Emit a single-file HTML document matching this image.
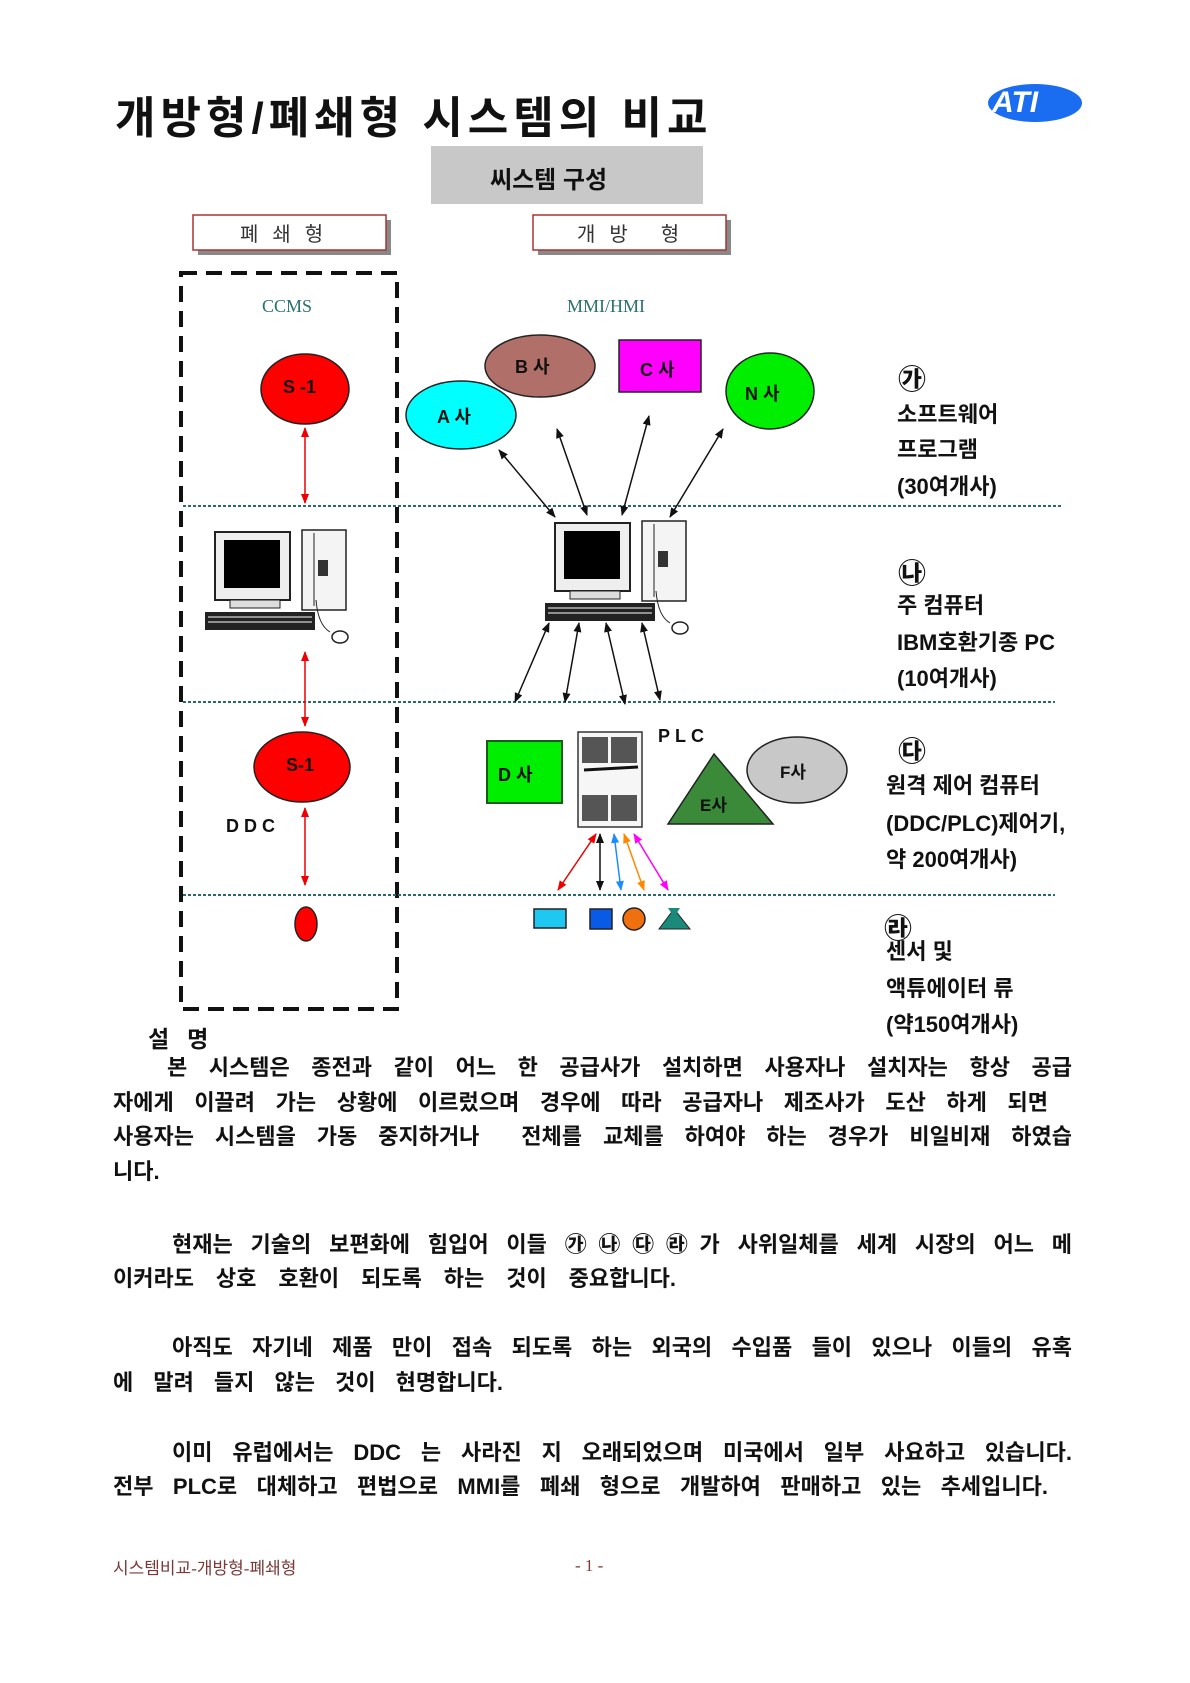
<!DOCTYPE html>
<html><head><meta charset="utf-8"><style>
body{margin:0;background:#fff;}
#p{position:relative;width:1190px;height:1683px;overflow:hidden;background:#fff;font-family:"Liberation Serif","Noto Sans CJK KR",serif;}
.t{position:absolute;white-space:nowrap;color:#111;}
.k{font-family:"Liberation Sans","Noto Sans CJK KR",sans-serif;font-weight:bold;}
.j{position:absolute;left:113px;width:959px;text-align:justify;text-align-last:justify;font-family:"Liberation Sans","Noto Sans CJK KR",sans-serif;font-weight:bold;font-size:22px;color:#111;white-space:nowrap;line-height:28px;}
.r{position:absolute;left:897px;font-family:"Liberation Sans","Noto Sans CJK KR",sans-serif;font-weight:bold;font-size:22px;color:#111;white-space:nowrap;line-height:28px;}
</style></head><body><div id="p">
<svg width="1190" height="1683" style="position:absolute;left:0;top:0">
<defs>
<marker id="ak" markerWidth="10" markerHeight="10" refX="9" refY="5" orient="auto-start-reverse" markerUnits="userSpaceOnUse"><path d="M0,1 L10,5 L0,9 z" fill="#111"/></marker>
<marker id="ar" markerWidth="10" markerHeight="10" refX="9" refY="5" orient="auto-start-reverse" markerUnits="userSpaceOnUse"><path d="M0,1 L10,5 L0,9 z" fill="#e00"/></marker>
<marker id="ab" markerWidth="10" markerHeight="10" refX="9" refY="5" orient="auto-start-reverse" markerUnits="userSpaceOnUse"><path d="M0,1 L10,5 L0,9 z" fill="#1a8cff"/></marker>
<marker id="ao" markerWidth="10" markerHeight="10" refX="9" refY="5" orient="auto-start-reverse" markerUnits="userSpaceOnUse"><path d="M0,1 L10,5 L0,9 z" fill="#f80"/></marker>
<marker id="am" markerWidth="10" markerHeight="10" refX="9" refY="5" orient="auto-start-reverse" markerUnits="userSpaceOnUse"><path d="M0,1 L10,5 L0,9 z" fill="#f0f"/></marker>
</defs>
<ellipse cx="1035" cy="103" rx="47" ry="19" fill="#1a6cf0"/>
<rect x="431" y="146" width="272" height="58" fill="#c8c8c8"/>
<rect x="198" y="220" width="193" height="35" fill="#888"/>
<rect x="193" y="215" width="193" height="35" fill="#fff" stroke="#a33" stroke-width="1.5"/>
<rect x="538" y="220" width="193" height="35" fill="#888"/>
<rect x="533" y="215" width="193" height="35" fill="#fff" stroke="#a33" stroke-width="1.5"/>
<rect x="181" y="273" width="216" height="736" fill="none" stroke="#111" stroke-width="4" stroke-dasharray="16,9"/>
<g stroke="#2a6a6a" stroke-width="2" stroke-dasharray="3,2">
<line x1="183" y1="506" x2="1061" y2="506"/><line x1="183" y1="702" x2="1055" y2="702"/><line x1="183" y1="895" x2="1055" y2="895"/></g>
<ellipse cx="305" cy="389" rx="44" ry="35" fill="#f00" stroke="#222" stroke-width="1.5"/>
<ellipse cx="302" cy="767" rx="48" ry="35" fill="#f00" stroke="#222" stroke-width="1.5"/>
<ellipse cx="306" cy="924" rx="11" ry="17" fill="#f00" stroke="#222" stroke-width="1.5"/>
<g stroke="#e00" stroke-width="1.5" marker-start="url(#ar)" marker-end="url(#ar)">
<line x1="305" y1="428" x2="305" y2="503"/><line x1="305" y1="652" x2="305" y2="726"/><line x1="305" y1="808" x2="305" y2="885"/></g>
<ellipse cx="540" cy="366" rx="55" ry="31" fill="#b06f68" stroke="#222" stroke-width="1.5"/>
<ellipse cx="461" cy="415" rx="55" ry="34" fill="#0ff" stroke="#222" stroke-width="1.5"/>
<rect x="619" y="340" width="82" height="52" fill="#f0f" stroke="#222" stroke-width="1.5"/>
<ellipse cx="770" cy="391" rx="44" ry="38" fill="#0e0" stroke="#222" stroke-width="1.5"/>
<g stroke="#111" stroke-width="1.5" marker-start="url(#ak)" marker-end="url(#ak)">
<line x1="555" y1="517" x2="499" y2="450"/><line x1="587" y1="515" x2="557" y2="429"/><line x1="622" y1="515" x2="649" y2="416"/><line x1="670" y1="517" x2="723" y2="429"/>
<line x1="549" y1="623" x2="515" y2="702"/><line x1="579" y1="623" x2="565" y2="702"/><line x1="606" y1="623" x2="625" y2="704"/><line x1="642" y1="623" x2="660" y2="700"/>
</g>
<g id="pc">
<rect x="215" y="532" width="75" height="68" fill="#eee" stroke="#222" stroke-width="2"/>
<rect x="224" y="540" width="56" height="48" fill="#000"/>
<rect x="230" y="600" width="50" height="8" fill="#ddd" stroke="#222"/>
<rect x="302" y="530" width="44" height="80" fill="#f4f4f4" stroke="#222" stroke-width="1.5"/>
<line x1="314" y1="533" x2="314" y2="606" stroke="#222"/><rect x="318" y="560" width="10" height="16" fill="#333"/>
<rect x="205" y="612" width="110" height="18" fill="#222"/>
<g stroke="#fff" stroke-width="1"><line x1="208" y1="617" x2="312" y2="617"/><line x1="208" y1="622" x2="312" y2="622"/></g>
<path d="M316,600 Q318,625 330,632" fill="none" stroke="#222"/>
<ellipse cx="340" cy="637" rx="8" ry="6" fill="#fff" stroke="#222" stroke-width="1.5"/>
</g>
<use href="#pc" x="340" y="-9"/>
<rect x="487" y="741" width="75" height="62" fill="#0e0" stroke="#1a5a1a" stroke-width="2"/>
<rect x="578" y="732" width="64" height="95" fill="#f6f6f6" stroke="#333" stroke-width="1.5"/>
<rect x="582" y="737" width="26" height="26" fill="#555"/><rect x="611" y="737" width="26" height="26" fill="#555"/>
<rect x="582" y="795" width="26" height="26" fill="#555"/><rect x="611" y="795" width="26" height="26" fill="#555"/>
<line x1="584" y1="770" x2="638" y2="767" stroke="#111" stroke-width="3"/>
<polygon points="714,754 668,824 773,824" fill="#3a8a3a" stroke="#222" stroke-width="1.5"/>
<ellipse cx="797" cy="770" rx="50" ry="33" fill="#c8c8c8" stroke="#222" stroke-width="1.5"/>
<line x1="596" y1="834" x2="558" y2="890" stroke="#e00" stroke-width="1.5" marker-start="url(#ar)" marker-end="url(#ar)"/>
<line x1="600" y1="834" x2="600" y2="890" stroke="#111" stroke-width="1.5" marker-start="url(#ak)" marker-end="url(#ak)"/>
<line x1="614" y1="834" x2="621" y2="890" stroke="#1a8cff" stroke-width="1.5" marker-start="url(#ab)" marker-end="url(#ab)"/>
<line x1="624" y1="834" x2="644" y2="890" stroke="#f80" stroke-width="1.5" marker-start="url(#ao)" marker-end="url(#ao)"/>
<line x1="634" y1="834" x2="668" y2="890" stroke="#f0f" stroke-width="1.5" marker-start="url(#am)" marker-end="url(#am)"/>
<rect x="534" y="909" width="32" height="19" fill="#1ec8f0" stroke="#222" stroke-width="1.5"/>
<rect x="590" y="909" width="22" height="20" fill="#0a5ae8" stroke="#222" stroke-width="1.5"/>
<circle cx="634" cy="919" r="11" fill="#f07010" stroke="#222" stroke-width="1.5"/>
<polygon points="674,909 659,929 690,929" fill="#1a8a7a" stroke="#222" stroke-width="1"/>
<polygon points="668,908 680,908 674,917" fill="#1a8a7a"/>
</svg>
<div class="t k" style="left:115px;top:82px;font-size:44px;letter-spacing:5px">개방형/폐쇄형 시스템의 비교</div>
<div class="t" style="left:992px;top:86px;font-size:30px;font-weight:bold;font-style:italic;color:#fff;font-family:'Liberation Sans',sans-serif">ATI</div>
<div class="t k" style="left:490px;top:160px;font-size:24px">씨스템 구성</div>
<div class="t" style="left:240px;top:218px;font-size:20px;color:#333;letter-spacing:14px">폐쇄형</div>
<div class="t" style="left:577px;top:218px;font-size:20px;color:#333;letter-spacing:14px">개방&nbsp;형</div>
<div class="t" style="left:262px;top:296px;font-size:18px;color:#2a7070">CCMS</div>
<div class="t" style="left:567px;top:296px;font-size:18px;color:#2a7070">MMI/HMI</div>
<div class="t k" style="left:283px;top:377px;font-size:18px">S -1</div>
<div class="t k" style="left:286px;top:755px;font-size:18px">S-1</div>
<div class="t k" style="left:226px;top:816px;font-size:18px;letter-spacing:5px">DDC</div>
<div class="t k" style="left:437px;top:403px;font-size:18px">A 사</div>
<div class="t k" style="left:515px;top:353px;font-size:18px">B 사</div>
<div class="t k" style="left:640px;top:356px;font-size:18px">C 사</div>
<div class="t k" style="left:745px;top:380px;font-size:18px">N 사</div>
<div class="t k" style="left:498px;top:761px;font-size:18px">D 사</div>
<div class="t k" style="left:658px;top:726px;font-size:18px;letter-spacing:5px">PLC</div>
<div class="t k" style="left:700px;top:791px;font-size:17px">E사</div>
<div class="t k" style="left:780px;top:758px;font-size:17px">F사</div>
<div class="t k" style="left:898px;top:358px;font-size:28px">㉮</div>
<div class="r" style="top:401px">소프트웨어</div>
<div class="r" style="top:436px">프로그램</div>
<div class="r" style="top:473px">(30여개사)</div>
<div class="t k" style="left:898px;top:552px;font-size:28px">㉯</div>
<div class="r" style="top:592px">주 컴퓨터</div>
<div class="r" style="top:629px">IBM호환기종 PC</div>
<div class="r" style="top:665px">(10여개사)</div>
<div class="t k" style="left:898px;top:730px;font-size:28px">㉰</div>
<div class="r" style="left:886px;top:772px">원격 제어 컴퓨터</div>
<div class="r" style="left:886px;top:810px">(DDC/PLC)제어기,</div>
<div class="r" style="left:886px;top:846px">약 200여개사)</div>
<div class="t k" style="left:884px;top:907px;font-size:28px">㉱</div>
<div class="r" style="left:886px;top:938px">센서 및</div>
<div class="r" style="left:886px;top:975px">액튜에이터 류</div>
<div class="r" style="left:886px;top:1011px">(약150여개사)</div>
<div class="t k" style="left:148px;top:1020px;font-size:23px;letter-spacing:18px">설명</div>
<div class="j" style="top:1054px;left:167px;width:905px">본 시스템은 종전과 같이 어느 한 공급사가 설치하면 사용자나 설치자는 항상 공급</div>
<div class="j" style="top:1089px;width:935px">자에게 이끌려 가는 상황에 이르렀으며 경우에 따라 공급자나 제조사가 도산 하게 되면</div>
<div class="j" style="top:1123px">사용자는 시스템을 가동 중지하거나 &nbsp;전체를 교체를 하여야 하는 경우가 비일비재 하였습</div>
<div class="j" style="top:1158px;text-align-last:left">니다.</div>
<div class="j" style="top:1231px;left:172px;width:900px">현재는 기술의 보편화에 힘입어 이들 ㉮㉯㉰㉱가 사위일체를 세계 시장의 어느 메</div>
<div class="j" style="top:1265px;width:563px">이커라도 상호 호환이 되도록 하는 것이 중요합니다.</div>
<div class="j" style="top:1334px;left:172px;width:900px">아직도 자기네 제품 만이 접속 되도록 하는 외국의 수입품 들이 있으나 이들의 유혹</div>
<div class="j" style="top:1369px;width:390px">에 말려 들지 않는 것이 현명합니다.</div>
<div class="j" style="top:1439px;left:172px;width:900px">이미 유럽에서는 DDC 는 사라진 지 오래되었으며 미국에서 일부 사요하고 있습니다.</div>
<div class="j" style="top:1473px;width:935px">전부 PLC로 대체하고 편법으로 MMI를 폐쇄 형으로 개발하여 판매하고 있는 추세입니다.</div>
<div class="t" style="left:113px;top:1554px;font-size:17px;color:#7a3a3a">시스템비교-개방형-폐쇄형</div>
<div class="t" style="left:575px;top:1556px;font-size:17px;color:#7a3a3a">- 1 -</div>
</div></body></html>
